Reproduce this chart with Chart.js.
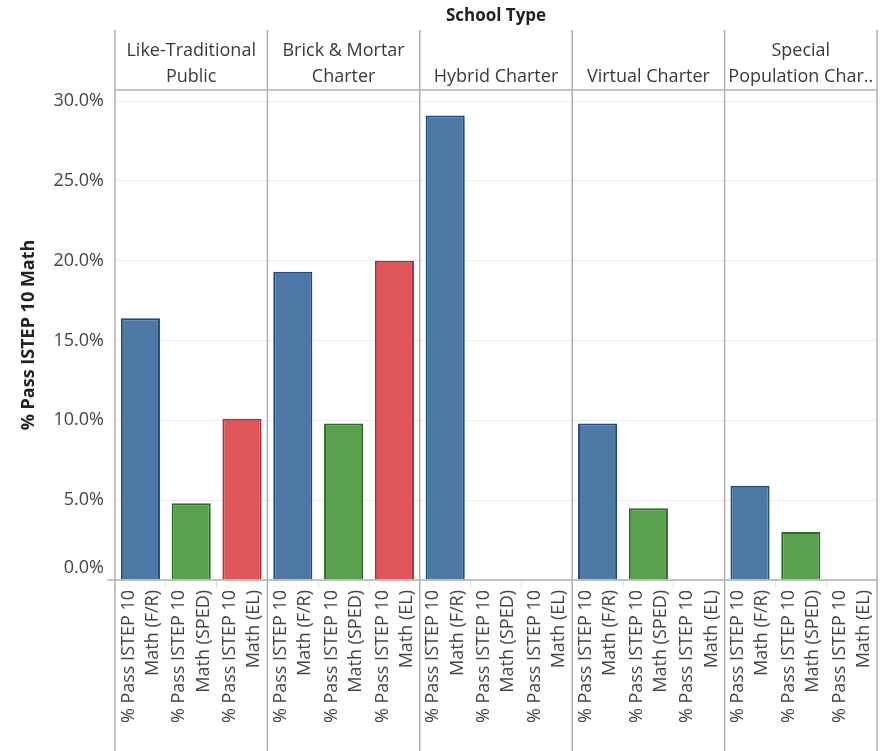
<!DOCTYPE html>
<html>
<head>
<meta charset="utf-8">
<script src="https://cdn.jsdelivr.net/npm/chart.js@4"></script>
<style>
  html, body { margin: 0; padding: 0; background: #fff; }
</style>
</head>
<body>
<canvas id="chart" width="884" height="751"></canvas>
<script>
// Panels (School Type) and the three measures shown in each panel
const schoolTypes = [
    ['Like-Traditional', 'Public'],
    ['Brick & Mortar', 'Charter'],
    ['Hybrid Charter'],
    ['Virtual Charter'],
    ['Special', 'Population Char..']
];
const measures = [
    ['% Pass ISTEP 10', 'Math (F/R)'],
    ['% Pass ISTEP 10', 'Math (SPED)'],
    ['% Pass ISTEP 10', 'Math (EL)']
];

// % passing, one value per school type
const passFR = [16.4, 19.3, 29.1, 9.8, 5.9];
const passSPED = [4.8, 9.8, null, 4.5, 3.0];
const passEL = [10.1, 20.0, null, null, null];

const yTicks = [0, 5, 10, 15, 20, 25, 30];

const FONT = '"Open Sans", sans-serif';
const LINE = '#b0b0b0';

// Build the flat category list: 5 school types x 3 measures
const labels = [];
schoolTypes.forEach(() => measures.forEach(m => labels.push(m)));

function spread(values, measureIndex) {
    const out = [];
    values.forEach(v => {
        for (let m = 0; m < measures.length; m++) {
            out.push(m === measureIndex ? v : null);
        }
    });
    return out;
}

// Panel borders, header labels and the zero baseline
const panelPlugin = {
    id: 'panels',
    afterDraw(chart) {
        const ctx = chart.ctx;
        const x = chart.scales.x;
        const y = chart.scales.y;
        const area = chart.chartArea;
        ctx.save();
        ctx.strokeStyle = LINE;
        ctx.lineWidth = 1.5;

        // header bottom line
        ctx.beginPath();
        ctx.moveTo(area.left, area.top);
        ctx.lineTo(area.right, area.top);
        ctx.stroke();

        // zero baseline
        const y0 = y.getPixelForValue(0);
        ctx.beginPath();
        ctx.moveTo(area.left - 8, y0);
        ctx.lineTo(area.right, y0);
        ctx.stroke();

        // vertical panel borders
        for (let s = 0; s <= schoolTypes.length; s++) {
            const px = x.getPixelForValue(s * measures.length - 0.5);
            ctx.beginPath();
            ctx.moveTo(px, 30);
            ctx.lineTo(px, chart.height);
            ctx.stroke();
        }

        // header text, bottom aligned
        ctx.fillStyle = '#3a3a3a';
        ctx.textAlign = 'center';
        ctx.textBaseline = 'middle';
        ctx.font = '18px ' + FONT;
        schoolTypes.forEach((lines, s) => {
            const cx = x.getPixelForValue(s * measures.length + 1);
            lines.forEach((t, i) => {
                ctx.fillText(t, cx, 77 - (lines.length - 1 - i) * 26);
            });
        });

        ctx.font = 'bold 17px ' + FONT;
        ctx.fillStyle = '#222';
        ctx.fillText('School Type', (area.left + area.right) / 2, 16);

        // 0.0% label sits above its line, as in the original
        ctx.font = '18px ' + FONT;
        ctx.fillStyle = '#444';
        ctx.textAlign = 'right';
        ctx.fillText('0.0%', area.left - 11, y0 - 12);
        ctx.restore();
    }
};

const ctx = document.getElementById('chart').getContext('2d');
new Chart(ctx, {
    type: 'bar',
    data: {
        labels: labels,
        datasets: [
            { label: 'F/R', data: spread(passFR, 0), backgroundColor: '#4e79a7', borderColor: '#1f4a7c' },
            { label: 'SPED', data: spread(passSPED, 1), backgroundColor: '#59a14f', borderColor: '#2b6e26' },
            { label: 'EL', data: spread(passEL, 2), backgroundColor: '#e15759', borderColor: '#b5292f' }
        ]
    },
    options: {
        responsive: false,
        animation: false,
        layout: { padding: { top: 90, right: 7, left: 0, bottom: 0 } },
        datasets: {
            bar: { grouped: false, barPercentage: 0.77, categoryPercentage: 1, borderWidth: 2 }
        },
        plugins: {
            legend: { display: false },
            tooltip: { enabled: false }
        },
        scales: {
            x: {
                grid: { offset: true, drawOnChartArea: false, tickLength: 8, color: '#e3e3e3' },
                border: { display: false },
                ticks: {
                    autoSkip: false,
                    minRotation: 90,
                    maxRotation: 90,
                    padding: 2,
                    labelOffset: -12,
                    color: '#444',
                    font: { family: FONT, size: 18, lineHeight: 1.35 }
                },
                afterFit(scale) {
                    scale.height = 171;
                    scale.paddingLeft = 0;
                    scale.paddingRight = 0;
                }
            },
            y: {
                min: 0,
                max: 30.69,
                grid: { drawTicks: false, color: '#ececec' },
                border: { display: false },
                afterBuildTicks(scale) { scale.ticks = yTicks.map(v => ({ value: v })); },
                ticks: {
                    padding: 11,
                    color: '#444',
                    font: { family: FONT, size: 18 },
                    callback: v => v === 0 ? '' : v.toFixed(1) + '%'
                },
                title: {
                    display: true,
                    text: '% Pass ISTEP 10 Math',
                    color: '#222',
                    padding: { top: 18, bottom: 0 },
                    font: { family: FONT, size: 18, weight: 'bold' }
                },
                afterFit(scale) { scale.width = 115; }
            }
        }
    },
    plugins: [panelPlugin]
});
</script>
</body>
</html>
